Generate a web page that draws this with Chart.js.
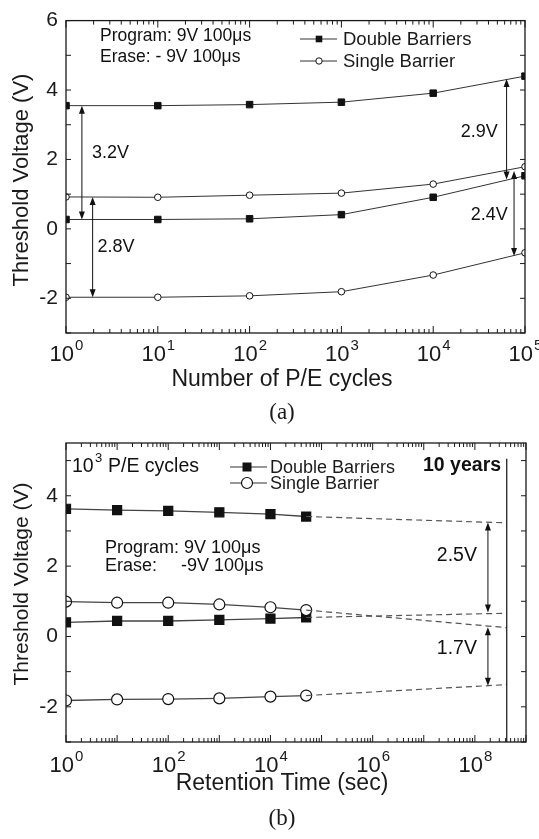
<!DOCTYPE html>
<html>
<head>
<meta charset="utf-8">
<script src="https://cdn.jsdelivr.net/npm/chart.js@4/dist/chart.umd.min.js"></script>
<style>
html,body{margin:0;padding:0;background:#fff;}
#wrap{position:relative;width:539px;height:839px;}
canvas{position:absolute;left:0;}
</style>
</head>
<body>
<div id="wrap">
<canvas id="c1" width="539" height="432" style="top:0"></canvas>
<canvas id="c2" width="539" height="419" style="top:420px"></canvas>
</div>
<script>
// ---------- Data (a): endurance ----------
const cycles = [1, 10, 100, 1000, 10000, 100000];
const endDoubleProgram = [3.55, 3.55, 3.58, 3.65, 3.91, 4.40];
const endSingleProgram = [0.92, 0.91, 0.97, 1.03, 1.29, 1.79];
const endDoubleErase   = [0.27, 0.27, 0.29, 0.41, 0.91, 1.53];
const endSingleErase   = [-1.97, -1.97, -1.93, -1.81, -1.33, -0.69];
const endYTicks = [-2, 0, 2, 4, 6];
const endXTickExps = [0, 1, 2, 3, 4, 5];

// ---------- Data (b): retention ----------
const retTime = [1, 10, 100, 1000, 10000, 50000];
const retDoubleProgram = [3.63, 3.59, 3.57, 3.53, 3.48, 3.41];
const retSingleProgram = [0.99, 0.96, 0.96, 0.91, 0.83, 0.75];
const retDoubleErase   = [0.40, 0.44, 0.44, 0.47, 0.51, 0.54];
const retSingleErase   = [-1.82, -1.79, -1.78, -1.76, -1.71, -1.68];
const tenYears = 4.2e8;
const extrapTime = [50000, tenYears];
const extrapDoubleProgram = [3.41, 3.23];
const extrapSingleProgram = [0.75, 0.25];
const extrapDoubleErase   = [0.54, 0.66];
const extrapSingleErase   = [-1.68, -1.37];
const retYTicks = [-2, 0, 2, 4];
const retXTickExps = [0, 2, 4, 6, 8];

// annotation arrows: [x, yTop, yBottom]
const endArrows = [[1.49, 3.55, 0.27], [1.95, 0.92, -1.97], [6.3e4, 4.32, 1.42], [7.6e4, 1.67, -0.78]];
const endArrowLabels = [["3.2V", 1.92, 2.19], ["2.8V", 2.2, -0.53], ["2.9V", 2.0e4, 2.78], ["2.4V", 2.57e4, 0.41]];
const retArrows = [[1.8e8, 3.24, 0.68], [1.8e8, 0.26, -1.40]];
const retArrowLabels = [["2.5V", 1.8e7, 2.29], ["1.7V", 1.8e7, -0.35]];

const FONT = "'Liberation Sans', Arial, sans-serif";
const SERIF = "'Liberation Serif', 'Times New Roman', serif";
const pts = (xs, ys) => xs.map((x, i) => ({x, y: ys[i]}));

function arrow(ctx, x, y1, y2, hl, hw) {
  ctx.beginPath(); ctx.moveTo(x, y1 + hl*0.6); ctx.lineTo(x, y2 - hl*0.6); ctx.stroke();
  ctx.beginPath(); ctx.moveTo(x, y1); ctx.lineTo(x - hw, y1 + hl); ctx.lineTo(x + hw, y1 + hl); ctx.closePath(); ctx.fill();
  ctx.beginPath(); ctx.moveTo(x, y2); ctx.lineTo(x - hw, y2 - hl); ctx.lineTo(x + hw, y2 - hl); ctx.closePath(); ctx.fill();
}

const deco = {
  id: 'deco',
  afterDraw(chart, args, o) {
    const {ctx, chartArea: a} = chart;
    const xs = chart.scales.x, ys = chart.scales.y;
    ctx.save();
    ctx.strokeStyle = '#1a1a1a'; ctx.fillStyle = '#1a1a1a';
    ctx.lineWidth = 1.3;
    ctx.strokeRect(a.left, a.top, a.right - a.left, a.bottom - a.top);
    ctx.lineWidth = 1;
    // x log ticks
    const e0 = Math.round(Math.log10(xs.min)), e1 = Math.round(Math.log10(xs.max));
    ctx.beginPath();
    for (let e = e0; e <= e1; e++) {
      for (let m = 1; m < 10; m++) {
        const v = m * Math.pow(10, e);
        if (v > xs.max * 1.0001) break;
        const px = xs.getPixelForValue(v);
        const len = m === 1 ? 7 : 4;
        ctx.moveTo(px, a.bottom); ctx.lineTo(px, a.bottom - len);
        ctx.moveTo(px, a.top); ctx.lineTo(px, a.top + len);
      }
    }
    // y ticks each integer
    for (let v = Math.ceil(ys.min); v <= Math.floor(ys.max); v++) {
      const py = ys.getPixelForValue(v);
      ctx.moveTo(a.left, py); ctx.lineTo(a.left + 5, py);
      ctx.moveTo(a.right, py); ctx.lineTo(a.right - 5, py);
    }
    ctx.stroke();
    // x tick labels 10^n
    ctx.fillStyle = '#1a1a1a';
    ctx.textBaseline = 'alphabetic'; ctx.textAlign = 'left';
    o.xExps.forEach(e => {
      const px = xs.getPixelForValue(Math.pow(10, e));
      ctx.font = '22px ' + FONT; const w1 = ctx.measureText('10').width;
      ctx.font = '15px ' + FONT; const w2 = ctx.measureText(String(e)).width;
      const x0 = px - (w1 + w2) / 2;
      ctx.font = '22px ' + FONT; ctx.fillText('10', x0, a.bottom + o.xLabOff);
      ctx.font = '15px ' + FONT; ctx.fillText(String(e), x0 + w1 + 1, a.bottom + o.xLabOff - 11);
    });
    // axis titles
    ctx.textAlign = 'center';
    ctx.font = '23px ' + FONT;
    ctx.fillText(o.xTitle, 282, a.bottom + o.xTitleOff);
    ctx.font = '23px ' + SERIF;
    ctx.fillText(o.panel, 282, a.bottom + o.panelOff);
    ctx.save();
    ctx.translate(28, o.yTitleY); ctx.rotate(-Math.PI / 2);
    ctx.font = o.yTitleSize + 'px ' + FONT;
    ctx.fillText('Threshold Voltage (V)', 0, 0);
    ctx.restore();
    // arrows
    ctx.lineWidth = 1; ctx.strokeStyle = '#111'; ctx.fillStyle = '#111';
    o.arrows.forEach(([x, y1, y2]) => arrow(ctx, xs.getPixelForValue(x), ys.getPixelForValue(y1), ys.getPixelForValue(y2), o.headL, o.headW));
    ctx.textAlign = 'left'; ctx.textBaseline = 'middle';
    ctx.font = o.annSize + 'px ' + FONT;
    o.labels.forEach(([t, x, y]) => ctx.fillText(t, xs.getPixelForValue(x), ys.getPixelForValue(y)));
    // free texts
    ctx.textBaseline = 'alphabetic';
    o.texts.forEach(t => { ctx.font = t.f; ctx.fillText(t.s, t.x, t.y); });
    // legend
    o.legend.forEach(l => {
      ctx.strokeStyle = '#333'; ctx.lineWidth = 1;
      ctx.beginPath(); ctx.moveTo(l.x0, l.y); ctx.lineTo(l.x1, l.y); ctx.stroke();
      ctx.strokeStyle = '#111'; ctx.lineWidth = l.bw;
      if (l.sq) { ctx.fillStyle = '#111'; ctx.fillRect(l.mx - l.r, l.y - l.r, 2 * l.r, 2 * l.r); }
      else { ctx.fillStyle = '#fff'; ctx.beginPath(); ctx.arc(l.mx, l.y, l.r, 0, 2 * Math.PI); ctx.fill(); ctx.stroke(); }
      ctx.fillStyle = '#1a1a1a'; ctx.font = l.f; ctx.textBaseline = 'middle';
      ctx.fillText(l.t, l.tx, l.y + 1);
    });
    // ten years line
    if (o.tenYears) {
      ctx.strokeStyle = '#111'; ctx.lineWidth = 1.2;
      const px = xs.getPixelForValue(o.tenYears[0]);
      ctx.beginPath(); ctx.moveTo(px, ys.getPixelForValue(o.tenYears[1])); ctx.lineTo(px, a.bottom); ctx.stroke();
    }
    ctx.restore();
  }
};

function ds(xs, ys, sq, r, lineColor, lw, bw) {
  return {
    data: pts(xs, ys), borderColor: lineColor, borderWidth: lw,
    pointStyle: sq ? 'rect' : 'circle', pointRadius: r, pointHoverRadius: r,
    pointBackgroundColor: sq ? '#111' : '#fff', pointBorderColor: '#111', pointBorderWidth: bw,
    tension: 0, clip: 0, fill: false
  };
}
function dashed(xs, ys) {
  return { data: pts(xs, ys), borderColor: '#555', borderWidth: 1.2, borderDash: [6, 4],
    pointRadius: 0, tension: 0, clip: 0, fill: false };
}

function baseOptions(xmin, xmax, ymin, ymax, yTicks, xH, pad) {
  return {
    responsive: false, animation: false, devicePixelRatio: 1,
    layout: { padding: pad },
    plugins: { legend: { display: false }, tooltip: { enabled: false } },
    scales: {
      x: { type: 'logarithmic', min: xmin, max: xmax,
        grid: { display: false, drawTicks: false }, border: { display: false },
        ticks: { display: false },
        afterFit(s) { s.height = xH; } },
      y: { type: 'linear', min: ymin, max: ymax,
        grid: { display: false, drawTicks: false }, border: { display: false },
        afterBuildTicks(s) { s.ticks = yTicks.map(v => ({ value: v })); },
        ticks: { color: '#1a1a1a', font: { family: FONT, size: 21 }, padding: 8, callback: v => String(v) },
        afterFit(s) { s.width = 66; } }
    }
  };
}

// ---------- Chart (a) ----------
const optA = baseOptions(1, 1e5, -3, 6, endYTicks, 99, { top: 12, right: 14, left: 0, bottom: 0 });
optA.plugins.deco = {
  xExps: endXTickExps, xLabOff: 28, xTitle: 'Number of P/E cycles', xTitleOff: 53, panel: '(a)', panelOff: 86,
  yTitleY: 180, yTitleSize: 22, headL: 8, headW: 3, annSize: 18,
  arrows: endArrows, labels: endArrowLabels,
  texts: [
    { s: 'Program: 9V 100μs', x: 100, y: 41, f: '17.5px ' + FONT },
    { s: 'Erase: - 9V 100μs', x: 100, y: 62, f: '17.5px ' + FONT }
  ],
  legend: [
    { t: 'Double Barriers', x0: 300, x1: 337, mx: 319, y: 39, sq: true, r: 3.3, bw: 1, tx: 343, f: '18.5px ' + FONT },
    { t: 'Single Barrier', x0: 300, x1: 337, mx: 319, y: 61, sq: false, r: 3.2, bw: 1, tx: 343, f: '18.5px ' + FONT }
  ]
};
new Chart(document.getElementById('c1'), {
  type: 'line',
  data: { datasets: [
    ds(cycles, endDoubleProgram, true, 4.6, '#333', 1, 1),
    ds(cycles, endSingleProgram, false, 3.3, '#333', 1, 1),
    ds(cycles, endDoubleErase, true, 4.6, '#333', 1, 1),
    ds(cycles, endSingleErase, false, 3.3, '#333', 1, 1)
  ] },
  options: optA,
  plugins: [deco]
});

// ---------- Chart (b) ----------
const optB = baseOptions(1, 1e9, -3, 5.5, retYTicks, 97, { top: 23, right: 13, left: 0, bottom: 0 });
optB.plugins.deco = {
  xExps: retXTickExps, xLabOff: 30, xTitle: 'Retention Time (sec)', xTitleOff: 48, panel: '(b)', panelOff: 83,
  yTitleY: 164, yTitleSize: 21, headL: 8, headW: 3, annSize: 19.5,
  arrows: retArrows, labels: retArrowLabels, tenYears: [tenYears, 5.05],
  texts: [
    { s: '10', x: 72, y: 52, f: '19.5px ' + FONT },
    { s: '3', x: 95, y: 42, f: '13px ' + FONT },
    { s: 'P/E cycles', x: 108, y: 52, f: '19.5px ' + FONT },
    { s: '10 years', x: 423, y: 51, f: 'bold 19.5px ' + FONT },
    { s: 'Program: 9V 100μs', x: 105, y: 133, f: '18px ' + FONT },
    { s: 'Erase:', x: 105, y: 151, f: '18px ' + FONT },
    { s: '-9V 100μs', x: 181, y: 151, f: '18px ' + FONT }
  ],
  legend: [
    { t: 'Double Barriers', x0: 230, x1: 267, mx: 247, y: 47, sq: true, r: 4.5, bw: 1.2, tx: 270, f: '18px ' + FONT },
    { t: 'Single Barrier', x0: 230, x1: 267, mx: 247, y: 63, sq: false, r: 5.5, bw: 1.2, tx: 270, f: '18px ' + FONT }
  ]
};
new Chart(document.getElementById('c2'), {
  type: 'line',
  data: { datasets: [
    dashed(extrapTime, extrapDoubleProgram),
    dashed(extrapTime, extrapSingleProgram),
    dashed(extrapTime, extrapDoubleErase),
    dashed(extrapTime, extrapSingleErase),
    ds(retTime, retDoubleProgram, true, 6.4, '#444', 1.3, 1.2),
    ds(retTime, retSingleProgram, false, 5.5, '#444', 1.3, 1.2),
    ds(retTime, retDoubleErase, true, 6.4, '#444', 1.3, 1.2),
    ds(retTime, retSingleErase, false, 5.5, '#444', 1.3, 1.2)
  ] },
  options: optB,
  plugins: [deco]
});
</script>
</body>
</html>
